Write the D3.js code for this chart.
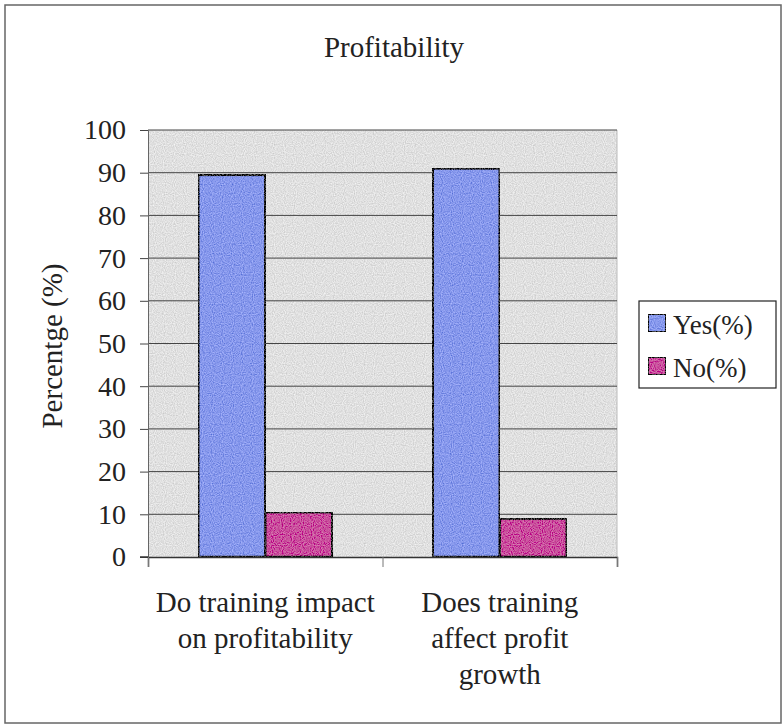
<!DOCTYPE html>
<html>
<head>
<meta charset="utf-8">
<script src="https://cdn.jsdelivr.net/npm/d3@7"></script>
<style>
  body { margin: 0; background: #fff; }
</style>
</head>
<body>
<div id="chart"></div>
<script>
const categories = [
  ["Do training impact", "on profitability"],
  ["Does training", "affect profit", "growth"]
];
const seriesNames = ["Yes(%)", "No(%)"];
const yesValues = [89.5, 91];
const noValues = [10.5, 9];
const yTicks = [0, 10, 20, 30, 40, 50, 60, 70, 80, 90, 100];

const w = 784, h = 724;
const plot = {left: 148, right: 617, top: 130, bottom: 557};
const colors = ["#8798ec", "#c9509c"];
const serif = "'Liberation Serif', 'Times New Roman', Tinos, 'DejaVu Serif', serif";

const svg = d3.select("#chart").append("svg")
  .attr("width", w)
  .attr("height", h)
  .style("font-family", serif);

// zero-mean grain to mimic the scanned look
const defs = svg.append("defs");
const f = defs.append("filter").attr("id", "grain")
  .attr("x", 0).attr("y", 0).attr("width", 1).attr("height", 1);
f.append("feTurbulence").attr("type", "fractalNoise")
  .attr("baseFrequency", 0.9).attr("numOctaves", 1).attr("seed", 3).attr("result", "noise");
f.append("feColorMatrix").attr("in", "noise").attr("type", "matrix")
  .attr("values", "1 0 0 0 0  1 0 0 0 0  1 0 0 0 0  0 0 0 0 1")
  .attr("result", "mono");
f.append("feComposite").attr("in", "SourceGraphic").attr("in2", "mono")
  .attr("operator", "arithmetic")
  .attr("k1", 0).attr("k2", 1).attr("k3", 0.5).attr("k4", -0.25)
  .attr("result", "mix");
f.append("feComposite").attr("in", "mix").attr("in2", "SourceAlpha").attr("operator", "in");

// outer frame
svg.append("rect")
  .attr("x", 5).attr("y", 5)
  .attr("width", 776).attr("height", 718)
  .attr("fill", "none")
  .attr("stroke", "#666")
  .attr("stroke-width", 1.5);

const x0 = d3.scaleBand()
  .domain(d3.range(categories.length))
  .range([plot.left, plot.right])
  .paddingInner(0)
  .paddingOuter(0);

const x1 = d3.scaleBand()
  .domain(d3.range(seriesNames.length))
  .range([0, x0.bandwidth()])
  .paddingOuter(0.75)
  .paddingInner(0);

const y = d3.scaleLinear()
  .domain([0, 100])
  .range([plot.bottom, plot.top]);

// plot background
svg.append("rect")
  .attr("x", plot.left).attr("y", plot.top)
  .attr("width", plot.right - plot.left)
  .attr("height", plot.bottom - plot.top)
  .attr("fill", "#e0e0e0")
  .attr("filter", "url(#grain)");
svg.append("line")
  .attr("x1", plot.right).attr("x2", plot.right)
  .attr("y1", plot.top).attr("y2", plot.bottom)
  .attr("stroke", "#bbb");

// gridlines
svg.append("g")
  .selectAll("line")
  .data(yTicks.filter(d => d > 0))
  .enter()
    .append("line")
    .attr("x1", plot.left).attr("x2", plot.right)
    .attr("y1", d => y(d)).attr("y2", d => y(d))
    .attr("stroke", "#444")
    .attr("stroke-width", 1);

// y axis
const yAxis = d3.axisLeft(y).tickValues(yTicks).tickSize(8).tickPadding(14);
const gy = svg.append("g")
  .attr("transform", "translate(" + plot.left + ",0)")
  .call(yAxis);
gy.attr("font-family", serif).attr("font-size", 28);
gy.select(".domain").attr("stroke", "#666");
gy.selectAll(".tick line").attr("stroke", "#444");
gy.selectAll("text")
  .style("font-family", serif)
  .attr("fill", "#222");

// bars
const rows = categories.map((c, i) => [yesValues[i], noValues[i]]);
svg.append("g")
  .selectAll("g")
  .data(rows)
  .enter()
    .append("g")
    .attr("transform", (d, i) => "translate(" + x0(i) + ",0)")
  .selectAll("rect")
  .data(d => d)
  .enter()
    .append("rect")
    .attr("x", (d, j) => x1(j))
    .attr("y", d => y(d))
    .attr("width", x1.bandwidth())
    .attr("height", d => plot.bottom - y(d))
    .attr("fill", (d, j) => colors[j])
    .attr("filter", "url(#grain)")
    .attr("stroke", "#222")
    .attr("stroke-width", 2.5);

// x axis
const xAxis = d3.axisBottom(d3.scaleLinear().domain([0, categories.length]).range([plot.left, plot.right]))
  .tickValues(d3.range(categories.length + 1))
  .tickSize(10)
  .tickFormat("");
const gx = svg.append("g")
  .attr("transform", "translate(0," + plot.bottom + ")")
  .call(xAxis);
gx.select(".domain").attr("stroke", "#333").attr("stroke-width", 1.5);
gx.selectAll(".tick line").attr("stroke", "#777");
svg.append("line")
  .attr("x1", plot.left - 8).attr("x2", plot.left)
  .attr("y1", plot.bottom).attr("y2", plot.bottom)
  .attr("stroke", "#333").attr("stroke-width", 1.5);

// category labels
svg.append("g")
  .selectAll("text")
  .data(categories)
  .enter()
    .append("text")
    .attr("text-anchor", "middle")
    .attr("font-size", 29)
    .attr("fill", "#222")
    .style("font-family", serif)
    .attr("x", (d, i) => x0(i) + x0.bandwidth() / 2)
    .attr("y", 612)
    .selectAll("tspan")
    .data(d => d)
    .enter()
      .append("tspan")
      .attr("x", function() { return d3.select(this.parentNode).attr("x"); })
      .attr("dy", (d, k) => k === 0 ? 0 : 36)
      .text(d => d);

// title
svg.append("text")
  .attr("x", 394).attr("y", 57)
  .attr("text-anchor", "middle")
  .attr("font-size", 29)
  .attr("fill", "#222")
  .style("font-family", serif)
  .text("Profitability");

// y label
svg.append("text")
  .attr("transform", "translate(62,346) rotate(-90)")
  .attr("text-anchor", "middle")
  .attr("font-size", 29)
  .attr("fill", "#222")
  .style("font-family", serif)
  .text("Percentge (%)");

// legend
const legend = svg.append("g").attr("transform", "translate(639,301)");
legend.append("rect")
  .attr("width", 137).attr("height", 87)
  .attr("fill", "#fff")
  .attr("stroke", "#222")
  .attr("stroke-width", 1.2);
const li = legend.selectAll("g.item")
  .data(seriesNames)
  .enter()
    .append("g")
    .attr("class", "item")
    .attr("transform", (d, i) => "translate(9," + (13 + i * 43) + ")");
li.append("rect")
  .attr("width", 18).attr("height", 18)
  .attr("fill", (d, i) => colors[i])
  .attr("filter", "url(#grain)")
  .attr("stroke", "#222")
  .attr("stroke-width", 2);
li.append("text")
  .attr("x", 25).attr("y", 20)
  .attr("font-size", 27)
  .attr("fill", "#222")
  .style("font-family", serif)
  .text(d => d);
</script>
</body>
</html>
